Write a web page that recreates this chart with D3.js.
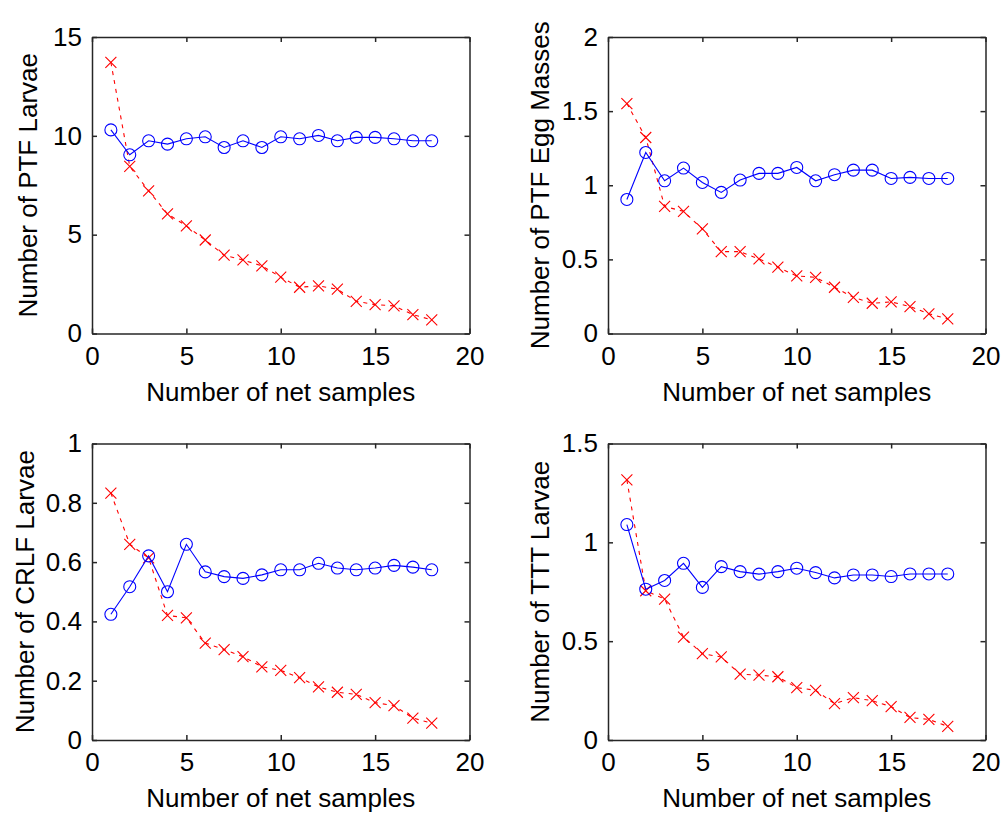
<!DOCTYPE html>
<html>
<head>
<meta charset="utf-8">
<script src="https://cdn.jsdelivr.net/npm/d3@7"></script>
<style>
  body { margin: 0; background: #fff; }
  svg { display: block; font-family: "Liberation Sans", Arial, sans-serif; }
</style>
</head>
<body>
<div id="chart"></div>
<script>
// x values shared by every panel
const netSamples = [1, 2, 3, 4, 5, 6, 7, 8, 9, 10, 11, 12, 13, 14, 15, 16, 17, 18];
const xTicks = [0, 5, 10, 15, 20];
const xLabel = "Number of net samples";

// PTF larvae
const ptfLarvaeCircle = [10.3, 9.04, 9.75, 9.58, 9.85, 9.95, 9.41, 9.75, 9.41, 9.95, 9.85, 10.02, 9.75, 9.92, 9.92, 9.85, 9.75, 9.75];
const ptfLarvaeCross = [13.72, 8.45, 7.22, 6.05, 5.44, 4.73, 3.96, 3.72, 3.42, 2.85, 2.34, 2.41, 2.24, 1.63, 1.46, 1.40, 0.96, 0.69];
const ptfLarvaeTicks = [0, 5, 10, 15];

// PTF egg masses
const ptfEggCircle = [0.904, 1.221, 1.03, 1.116, 1.019, 0.952, 1.035, 1.08, 1.08, 1.12, 1.03, 1.071, 1.102, 1.102, 1.046, 1.053, 1.046, 1.046];
const ptfEggCross = [1.551, 1.322, 0.857, 0.824, 0.705, 0.552, 0.552, 0.503, 0.447, 0.388, 0.379, 0.312, 0.244, 0.204, 0.213, 0.182, 0.133, 0.099];
const ptfEggTicks = [0, 0.5, 1, 1.5, 2];

// CRLF larvae
const crlfLarvaeCircle = [0.424, 0.517, 0.621, 0.5, 0.66, 0.567, 0.551, 0.545, 0.557, 0.574, 0.574, 0.596, 0.58, 0.574, 0.58, 0.589, 0.583, 0.574];
const crlfLarvaeCross = [0.833, 0.66, 0.614, 0.42, 0.412, 0.327, 0.305, 0.281, 0.247, 0.235, 0.21, 0.179, 0.161, 0.154, 0.126, 0.116, 0.074, 0.057];
const crlfLarvaeTicks = [0, 0.2, 0.4, 0.6, 0.8, 1];

// TTT larvae
const tttLarvaeCircle = [1.09, 0.763, 0.807, 0.894, 0.772, 0.877, 0.852, 0.839, 0.852, 0.869, 0.847, 0.82, 0.835, 0.835, 0.827, 0.84, 0.84, 0.84];
const tttLarvaeCross = [1.316, 0.755, 0.713, 0.521, 0.437, 0.42, 0.333, 0.328, 0.32, 0.265, 0.251, 0.184, 0.214, 0.199, 0.169, 0.114, 0.104, 0.069];
const tttLarvaeTicks = [0, 0.5, 1, 1.5];

const panels = [
  {label: "Number of PTF Larvae", circle: ptfLarvaeCircle, cross: ptfLarvaeCross, ticks: ptfLarvaeTicks, col: 0, row: 0, labelOff: 55},
  {label: "Number of PTF Egg Masses", circle: ptfEggCircle, cross: ptfEggCross, ticks: ptfEggTicks, col: 1, row: 0, labelOff: 59.5},
  {label: "Number of CRLF Larvae", circle: crlfLarvaeCircle, cross: crlfLarvaeCross, ticks: crlfLarvaeTicks, col: 0, row: 1, labelOff: 58.5},
  {label: "Number of TTT Larvae", circle: tttLarvaeCircle, cross: tttLarvaeCross, ticks: tttLarvaeTicks, col: 1, row: 1, labelOff: 59.5}
];

const width = 1003, height = 817;
const lefts = [92, 608], tops = [37, 443.5];
const pw = 377.5, ph = 296.5;
const fontSize = 26;
const axisColor = "#262626";

const svg = d3.select("#chart").append("svg")
  .attr("width", width)
  .attr("height", height);

panels.forEach(p => {
  const x0 = lefts[p.col], y0 = tops[p.row];
  const g = svg.append("g").attr("transform", `translate(${x0},${y0})`);

  const x = d3.scaleLinear().domain([0, 20]).range([0, pw]);
  const y = d3.scaleLinear().domain([0, d3.max(p.ticks)]).range([ph, 0]);
  const fmt = d3.format("~g");

  const styleAxis = a => {
    a.attr("font-size", fontSize).attr("font-family", null);
    a.select(".domain").attr("stroke", axisColor).attr("stroke-width", 1.5);
    a.selectAll(".tick line").attr("stroke", axisColor).attr("stroke-width", 1.5);
    a.selectAll(".tick text").attr("fill", "#000");
  };

  g.append("g")
    .attr("transform", `translate(0,${ph})`)
    .call(d3.axisBottom(x).tickValues(xTicks).tickFormat(fmt).tickSize(-5).tickSizeOuter(0).tickPadding(13))
    .call(styleAxis);
  g.append("g")
    .call(d3.axisTop(x).tickValues(xTicks).tickFormat("").tickSize(-5).tickSizeOuter(0))
    .call(styleAxis);
  g.append("g")
    .call(d3.axisLeft(y).tickValues(p.ticks).tickFormat(fmt).tickSize(-5).tickSizeOuter(0).tickPadding(10))
    .call(styleAxis);
  g.append("g")
    .attr("transform", `translate(${pw},0)`)
    .call(d3.axisRight(y).tickValues(p.ticks).tickFormat("").tickSize(-5).tickSizeOuter(0))
    .call(styleAxis);

  const crossPts = netSamples.map((n, i) => [n, p.cross[i]]);
  const circlePts = netSamples.map((n, i) => [n, p.circle[i]]);
  const line = d3.line().x(d => x(d[0])).y(d => y(d[1]));

  // red dashed series with x markers
  g.append("path")
    .datum(crossPts)
    .attr("d", line)
    .attr("fill", "none")
    .attr("stroke", "#ff0000")
    .attr("stroke-width", 1.1)
    .attr("stroke-dasharray", "4,5");

  const s = 5.5;
  g.append("g").selectAll("path")
    .data(crossPts)
    .join("path")
      .attr("d", d => {
        const cx = x(d[0]), cy = y(d[1]);
        return `M${cx - s},${cy - s}L${cx + s},${cy + s}M${cx - s},${cy + s}L${cx + s},${cy - s}`;
      })
      .attr("stroke", "#ff0000")
      .attr("stroke-width", 1.1)
      .attr("fill", "none");

  // blue solid series with circle markers
  g.append("path")
    .datum(circlePts)
    .attr("d", line)
    .attr("fill", "none")
    .attr("stroke", "#0000ff")
    .attr("stroke-width", 1.1);

  g.append("g").selectAll("circle")
    .data(circlePts)
    .join("circle")
      .attr("cx", d => x(d[0]))
      .attr("cy", d => y(d[1]))
      .attr("r", 6)
      .attr("fill", "none")
      .attr("stroke", "#0000ff")
      .attr("stroke-width", 1.1);

  // axis labels
  g.append("text")
    .attr("x", pw / 2)
    .attr("y", ph + 67)
    .attr("text-anchor", "middle")
    .attr("font-size", fontSize)
    .attr("fill", "#000")
    .text(xLabel);

  g.append("text")
    .attr("transform", `translate(${-p.labelOff},${ph / 2}) rotate(-90)`)
    .attr("text-anchor", "middle")
    .attr("font-size", fontSize)
    .attr("fill", "#000")
    .text(p.label);
});
</script>
</body>
</html>
